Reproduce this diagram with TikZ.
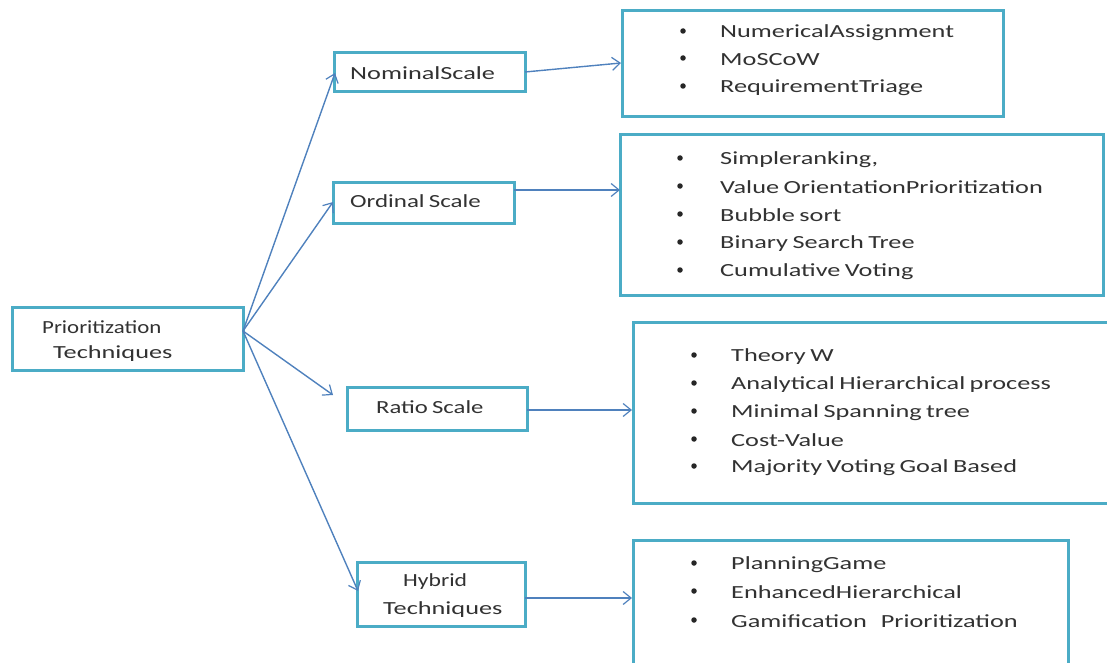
\documentclass[tikz,border=0pt]{standalone}
\usepackage{fontspec}
\setmainfont{Carlito}[FakeStretch=1.42,WordSpace=0.75]
\usetikzlibrary{arrows.meta}
\definecolor{boxc}{RGB}{75,172,198}
\definecolor{arrc}{RGB}{79,129,189}
\definecolor{txtc}{RGB}{50,50,50}
\begin{document}
\begin{tikzpicture}[x=1pt,y=-1pt,
  box/.style={draw=boxc,line width=3pt,fill=white,inner sep=0pt},
  lbl/.style={text=txtc,font=\fontsize{18.5}{22}\selectfont,inner sep=0pt,anchor=west,yshift=-1.5pt},
  itm/.style={text=txtc,font=\fontsize{18.5}{22}\selectfont,inner sep=0pt,anchor=west,yshift=-1.5pt},
  bul/.style={fill=black!85,circle,inner sep=0pt,minimum size=5.5pt},
  arr/.style={draw=arrc,line width=1.4pt,-{Straight Barb[length=8pt,width=13pt,line width=1.2pt]}}]
\useasboundingbox (0,0) rectangle (1107,663);
% main boxes
\node[box,minimum width=231pt,minimum height=63pt] (P) at (127.5,338.5) {};
\node[box,minimum width=191pt,minimum height=39pt] (N) at (429.5,72.5) {};
\node[box,minimum width=181pt,minimum height=41pt] (O) at (423.5,202.5) {};
\node[box,minimum width=180pt,minimum height=43pt] (R) at (437,408.5) {};
\node[box,minimum width=168pt,minimum height=64pt] (H) at (441,594) {};
% list boxes
\node[box,minimum width=381pt,minimum height=106pt] (L1) at (812.5,64) {};
\node[box,minimum width=483pt,minimum height=160pt] (L2) at (861.5,215) {};
\node[box,minimum width=490pt,minimum height=181pt] (L3) at (878,412.5) {};
\node[box,minimum width=435pt,minimum height=140pt] (L4) at (850.5,610) {};
% labels
\node[lbl] (p1) at (42,326) {\scalebox{0.87}[1]{Prioritization}};
\node[lbl] (p2) at (53,352) {Techniques};
\node[lbl] (n1) at (350,72) {NominalScale};
\node[lbl] (o1) at (350,200) {\scalebox{0.95}[1]{Ordinal Scale}};
\node[lbl] (r1) at (376,406) {\scalebox{0.94}[1]{Ratio Scale}};
\node[lbl] (h1) at (403,580) {\scalebox{0.9}[1]{Hybrid}};
\node[lbl] (h2) at (383,608) {Techniques};
% list 1
\node[bul] (b11) at (683,31) {}; \node[itm] (t11) at (720,31) {NumericalAssignment};
\node[bul] (b12) at (683,58) {}; \node[itm] (t12) at (720,58) {MoSCoW};
\node[bul] (b13) at (683,86) {}; \node[itm] (t13) at (720,86) {RequirementTriage};
% list 2
\node[bul] (b21) at (680,158) {}; \node[itm] (t21) at (720,158) {Simpleranking,};
\node[bul] (b22) at (680,186) {}; \node[itm] (t22) at (720,186) {Value OrientationPrioritization};
\node[bul] (b23) at (680,214) {}; \node[itm] (t23) at (720,214) {Bubble sort};
\node[bul] (b24) at (680,242) {}; \node[itm] (t24) at (720,242) {Binary Search Tree};
\node[bul] (b25) at (680,270) {}; \node[itm] (t25) at (720,270) {Cumulative Voting};
% list 3
\node[bul] (b31) at (694,355) {}; \node[itm] (t31) at (731,355) {Theory W};
\node[bul] (b32) at (694,383) {}; \node[itm] (t32) at (731,383) {Analytical Hierarchical process};
\node[bul] (b33) at (694,411) {}; \node[itm] (t33) at (731,411) {Minimal Spanning tree};
\node[bul] (b34) at (694,439) {}; \node[itm] (t34) at (731,439) {Cost-Value};
\node[bul] (b35) at (694,466) {}; \node[itm] (t35) at (731,466) {Majority Voting Goal Based};
% list 4
\node[bul] (b41) at (694,563) {}; \node[itm] (t41) at (731,563) {PlanningGame};
\node[bul] (b42) at (694,591) {}; \node[itm] (t42) at (731,591) {EnhancedHierarchical};
\node[bul] (b43) at (694,620) {}; \node[itm] (t43) at (731,620) {Gamification\hspace{14pt}Prioritization};
% connector points
\coordinate (o) at (243,331);
\coordinate (nIn) at (335,73);
\coordinate (oIn) at (333,202);
\coordinate (rIn) at (333,395);
\coordinate (hIn) at (358,591);
\coordinate (nOut) at (525,72);
\coordinate (l1In) at (621,63);
\coordinate (oOut) at (514,190);
\coordinate (l2In) at (620,190);
\coordinate (rOut) at (527,410);
\coordinate (l3In) at (632,410);
\coordinate (hOut) at (525,598);
\coordinate (l4In) at (632,598);
\draw[arr] (o) -- (nIn);
\draw[arr] (o) -- (oIn);
\draw[arr] (o) -- (rIn);
\draw[arr] (o) -- (hIn);
\draw[arr] (nOut) -- (l1In);
\draw[arr] (oOut) -- (l2In);
\draw[arr] (rOut) -- (l3In);
\draw[arr] (hOut) -- (l4In);
\end{tikzpicture}
\end{document}
